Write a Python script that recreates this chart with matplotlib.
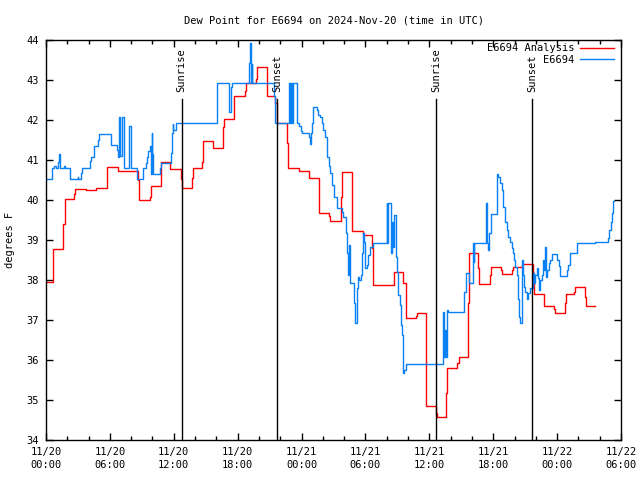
import matplotlib
matplotlib.use("Agg")
import matplotlib.pyplot as plt
from matplotlib.ticker import MultipleLocator

plt.rcParams['font.family'] = ['DejaVu Sans Mono']

# hours since 2024-11-20 00:00 UTC
analysis_t = [0.07, 0.69, 1.62, 1.76, 2.66, 2.75, 3.76, 4.67, 5.70, 5.76, 6.76, 8.64, 8.76,
              9.77, 9.89, 10.77, 11.62, 12.65, 12.74, 13.68, 13.78, 14.65, 14.77, 15.65,
              16.65, 16.76, 17.68, 18.69, 18.78, 19.72, 19.79, 20.73, 21.51, 21.66, 22.60,
              22.70, 23.76, 24.70, 25.64, 26.58, 26.67, 27.67, 27.77, 28.71, 28.77, 29.80,
              30.59, 30.71, 32.71, 33.55, 33.78, 34.72, 34.81, 35.69, 35.71, 36.65, 36.72,
              37.56, 37.66, 38.63, 38.76, 39.66, 39.75, 40.60, 40.66, 41.69, 41.76, 42.73,
              42.79, 43.73, 43.83, 44.67, 45.76, 45.83, 46.77, 47.70, 47.83, 48.74, 48.80,
              49.61, 49.70, 50.64, 50.71, 51.58]
analysis_v = [37.96, 38.77, 39.40, 40.02, 40.14, 40.27, 40.24, 40.29, 40.54, 40.82, 40.73, 40.50, 40.00,
              40.08, 40.36, 40.95, 40.77, 40.53, 40.29, 40.54, 40.80, 40.94, 41.47, 41.30,
              41.83, 42.02, 42.60, 42.72, 42.93, 43.03, 43.33, 42.60, 42.43, 41.93, 41.42,
              40.80, 40.72, 40.54, 39.68, 39.60, 39.48, 40.07, 40.70, 39.96, 39.22, 39.12,
              38.79, 37.88, 38.21, 37.92, 37.04, 37.11, 37.18, 35.96, 34.85, 34.68, 34.57,
              35.17, 35.79, 35.92, 36.08, 37.42, 38.68, 38.29, 37.89, 38.12, 38.33, 38.25,
              38.14, 38.25, 38.33, 38.39, 38.17, 37.64, 37.35, 37.28, 37.17, 37.42, 37.64,
              37.69, 37.82, 37.58, 37.35, 37.35]

obs_t = [0.00, 0.52, 0.75, 0.94, 1.13, 1.22, 1.31, 1.69, 1.78, 2.27, 2.96, 3.01, 3.31, 3.41,
         4.13, 4.23, 4.51, 4.91, 5.01, 6.10, 6.67, 6.79, 6.86, 6.97, 7.11, 7.37, 7.79, 7.94,
         8.01, 8.57, 9.14, 9.39, 9.51, 9.61, 9.77, 9.83, 9.93, 10.00, 10.08, 10.71, 10.83,
         11.71, 11.80, 11.90, 11.95, 12.24, 16.03, 17.21, 17.37, 17.51, 19.09, 19.16, 19.22,
         19.30, 19.37, 21.41, 21.55, 22.85, 22.91, 23.01, 23.10, 23.22, 23.60, 23.79, 23.92,
         24.01, 24.70, 24.79, 24.89, 25.01, 25.10, 25.42, 25.57, 25.73, 25.89, 26.04, 26.20,
         26.36, 26.42, 26.58, 26.67, 26.83, 27.05, 27.30, 27.77, 27.92, 28.17, 28.24, 28.33,
         28.48, 28.55, 28.95, 29.05, 29.18, 29.27, 29.42, 29.55, 29.65, 29.80, 29.89, 29.96,
         30.12, 30.27, 30.43, 30.74, 31.99, 32.05, 32.15, 32.37, 32.46, 32.62, 32.71, 32.84,
         32.93, 33.08, 33.24, 33.31, 33.46, 33.50, 33.55, 33.62, 33.78, 37.25, 37.31, 37.40,
         37.47, 37.54, 37.63, 37.72, 39.28, 39.41, 39.75, 40.07, 40.15, 40.24, 41.32, 41.39,
         41.54, 41.63, 41.76, 42.33, 42.48, 42.64, 42.79, 42.95, 43.10, 43.26, 43.41, 43.57,
         43.73, 43.83, 43.95, 44.04, 44.20, 44.30, 44.42, 44.51, 44.67, 44.77, 44.89, 44.98,
         45.14, 45.29, 45.45, 45.71, 45.83, 45.95, 46.08, 46.18, 46.27, 46.39, 46.55, 46.70,
         46.80, 46.89, 46.96, 47.08, 47.21, 47.33, 47.49, 48.02, 48.15, 48.27, 48.90, 49.05,
         49.21, 49.84, 51.56, 52.75, 52.90, 53.03, 53.13, 53.22, 53.28, 53.30]
obs_v = [40.52, 40.80, 40.86, 40.80, 40.96, 41.15, 40.80, 40.86, 40.80, 40.52, 40.57, 40.52, 40.67, 40.80,
         40.98, 41.08, 41.36, 41.49, 41.64, 41.38, 41.25, 41.08, 42.07, 41.10, 42.07, 40.80, 41.85, 41.29,
         40.80, 40.52, 40.80, 40.92, 41.08, 41.22, 41.36, 40.65, 41.67, 41.15, 40.65, 40.80, 40.93,
         41.17, 41.67, 41.90, 41.75, 41.92, 42.93, 42.20, 42.83, 42.93, 43.42, 43.92, 42.93,
         43.40, 42.93, 42.60, 41.93, 42.93, 41.93, 42.93, 41.93, 42.93, 41.92, 41.85, 41.73,
         41.68, 41.58, 41.40, 41.67, 41.92, 42.33, 42.25, 42.12, 42.07, 41.92, 41.75, 41.58,
         41.25, 41.08, 40.85, 40.68, 40.37, 40.08, 39.79, 39.71, 39.58, 39.17, 38.67, 38.12,
         38.87, 37.92, 37.42, 36.92, 37.79, 38.08, 38.00, 38.12, 38.67, 39.17, 38.96, 38.29,
         38.37, 38.62, 38.83, 38.92, 39.92, 38.92, 39.92, 38.67, 39.46, 38.83, 39.63, 38.58,
         38.21, 37.63, 37.38, 36.88, 36.63, 36.17, 35.67, 35.75, 35.90, 35.92, 37.21, 36.08,
         36.75, 36.08, 37.25, 37.21, 37.71, 38.18, 37.92, 38.92, 38.46, 38.92, 39.92, 38.92,
         38.75, 39.17, 39.64, 40.64, 40.58, 40.42, 40.25, 39.83, 39.46, 39.25, 39.08, 38.96,
         38.79, 38.67, 38.50, 38.33, 38.12, 37.52, 37.08, 36.92, 38.50, 38.12, 37.83, 37.71,
         37.52, 37.67, 37.79, 38.17, 37.92, 38.12, 38.29, 38.04, 37.75, 38.00, 38.12, 38.50,
         38.25, 38.82, 38.08, 38.25, 38.42, 38.50, 38.64, 38.50, 38.35, 38.10, 38.25, 38.38,
         38.67, 38.92, 38.94, 39.04, 39.25, 39.46, 39.67, 39.88, 39.98, 39.98]

sun_t = [12.74, 21.72, 36.65, 45.67]
sun_labels = ["Sunrise", "Sunset", "Sunrise", "Sunset"]

xtick_pos = [0, 6, 12, 18, 24, 30, 36, 42, 48, 54]
xtick_labels = ["11/20\n00:00", "11/20\n06:00", "11/20\n12:00", "11/20\n18:00",
                "11/21\n00:00", "11/21\n06:00", "11/21\n12:00", "11/21\n18:00",
                "11/22\n00:00", "11/22\n06:00"]

fs = 7.5
fig = plt.figure(figsize=(6.4, 4.8), dpi=100)
ax = fig.add_axes([46/640, 40/480, 575/640, 400/480])

ax.plot(analysis_t, analysis_v, color='#ff0000', lw=1.0, drawstyle='steps-post',
        label='E6694 Analysis')
ax.plot(obs_t, obs_v, color='#0a80f5', lw=1.0, drawstyle='steps-post', label='E6694')

for t, lab in zip(sun_t, sun_labels):
    ax.plot([t, t], [34, 42.53], color='black', lw=1.0)
    ax.text(t, 42.7, lab, rotation=90, ha='center', va='bottom', fontsize=fs)

ax.set_xlim(0, 54)
ax.set_ylim(34, 44)
ax.set_xticks(xtick_pos)
ax.set_xticklabels(xtick_labels, fontsize=fs, linespacing=1.35)
ax.xaxis.set_minor_locator(MultipleLocator(2))
ax.set_yticks(range(34, 45))
ax.set_yticklabels([str(v) for v in range(34, 45)], fontsize=fs)
ax.tick_params(which='both', direction='in', top=True, right=True, width=1)
ax.tick_params(which='major', length=5, pad=5)
ax.tick_params(which='minor', length=3)
for s in ax.spines.values():
    s.set_linewidth(1.0)

ax.set_ylabel('degrees F', fontsize=fs, labelpad=8)
ax.set_title('Dew Point for E6694 on 2024-Nov-20 (time in UTC)', fontsize=fs, pad=12)

leg = ax.legend(loc='upper right', bbox_to_anchor=(1.0, 1.01), frameon=False, fontsize=fs,
                markerfirst=False, handlelength=3.2, borderaxespad=0.3,
                labelspacing=0.15, handletextpad=0.6)

fig.savefig('out.png', dpi=100)
